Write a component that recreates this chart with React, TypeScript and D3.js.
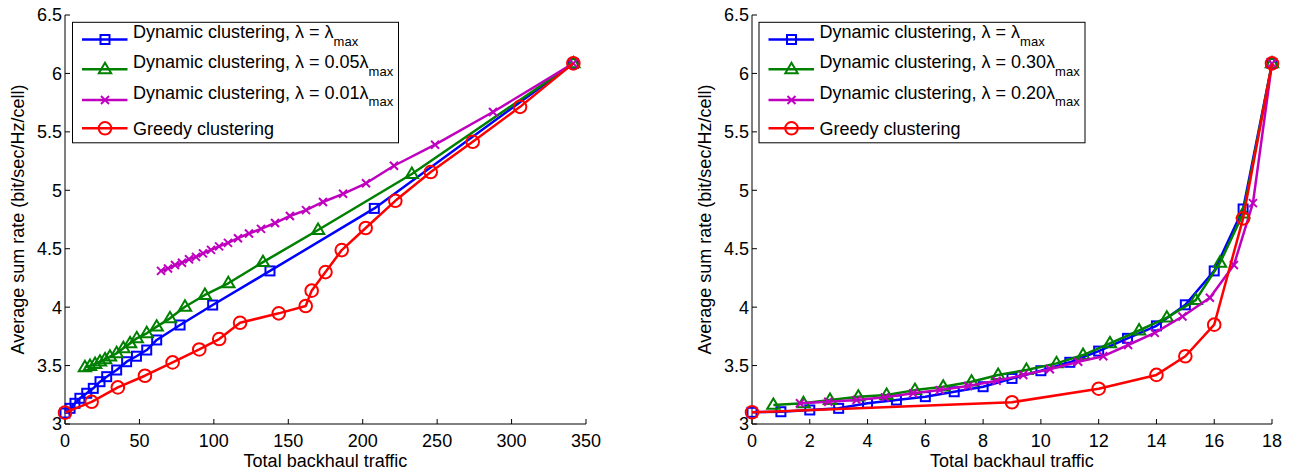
import React from "react";
import * as d3 from "d3";

// ---------- data ----------
const leftXTicks = [0, 50, 100, 150, 200, 250, 300, 350];
const rightXTicks = [0, 2, 4, 6, 8, 10, 12, 14, 16, 18];
const yTicks = [3, 3.5, 4, 4.5, 5, 5.5, 6, 6.5];

const leftBlueX = [0, 3.4, 6.7, 10, 14.6, 19, 23.5, 28, 34.7, 41.4, 48, 54.9, 61.6, 77.3, 99.2, 137.7, 207.8, 341.5];
const leftBlueY = [3.094, 3.134, 3.177, 3.22, 3.263, 3.305, 3.362, 3.405, 3.462, 3.533, 3.58, 3.633, 3.719, 3.847, 4.018, 4.31, 4.845, 6.086];
const leftGreenX = [13.4, 16.8, 20.2, 23.5, 26.9, 30.2, 34.7, 39.2, 43.7, 48.2, 54.9, 61.6, 70.5, 80.6, 94, 109.7, 133, 170, 233, 341.5];
const leftGreenY = [3.485, 3.496, 3.513, 3.533, 3.553, 3.576, 3.605, 3.648, 3.69, 3.733, 3.776, 3.833, 3.904, 4.003, 4.104, 4.204, 4.385, 4.66, 5.139, 6.086];
const leftPurpleX = [64.5, 69.2, 73.9, 78.6, 83.3, 88, 92.7, 98.1, 103.5, 109.5, 116.2, 123.6, 131.7, 141.1, 151.1, 161.9, 173.3, 186.8, 202.2, 221, 248.6, 287.5, 341.5];
const leftPurpleY = [4.31, 4.33, 4.36, 4.38, 4.41, 4.43, 4.46, 4.49, 4.52, 4.55, 4.59, 4.63, 4.67, 4.72, 4.78, 4.83, 4.9, 4.97, 5.06, 5.21, 5.39, 5.67, 6.086];
const leftRedX = [0, 17.9, 35.5, 53.7, 72.3, 90.2, 103.6, 117.6, 143.6, 161.7, 165.7, 175, 185.9, 202, 221.9, 245.7, 273.9, 305.7, 341.5];
const leftRedY = [3.097, 3.19, 3.313, 3.413, 3.527, 3.638, 3.727, 3.866, 3.947, 4.01, 4.141, 4.3, 4.488, 4.677, 4.91, 5.156, 5.415, 5.714, 6.086];

const rightBlueX = [0, 1, 2, 3, 4, 5, 6, 7, 8, 9, 10, 11, 12, 13, 14, 15, 16, 17, 18];
const rightBlueY = [3.1, 3.105, 3.12, 3.134, 3.177, 3.205, 3.234, 3.276, 3.319, 3.39, 3.456, 3.528, 3.624, 3.733, 3.84, 4.02, 4.31, 4.84, 6.086];
const rightGreenX = [0.74, 1.78, 2.7, 3.68, 4.66, 5.64, 6.62, 7.6, 8.52, 9.5, 10.54, 11.46, 12.39, 13.4, 14.36, 15.36, 16.2, 17.0, 18];
const rightGreenY = [3.163, 3.177, 3.205, 3.234, 3.248, 3.29, 3.319, 3.362, 3.419, 3.462, 3.519, 3.59, 3.69, 3.8, 3.91, 4.06, 4.38, 4.8, 6.086];
const rightPurpleX = [1.66, 2.64, 3.62, 4.6, 5.58, 6.5, 7.48, 8.47, 9.39, 10.31, 11.29, 12.16, 13.02, 13.94, 14.9, 15.85, 16.68, 17.34, 18];
const rightPurpleY = [3.177, 3.19, 3.205, 3.228, 3.263, 3.29, 3.325, 3.37, 3.419, 3.468, 3.533, 3.58, 3.676, 3.78, 3.92, 4.08, 4.36, 4.89, 6.086];
const rightRedX = [0, 9, 12, 14, 15, 16, 17, 18];
const rightRedY = [3.1, 3.186, 3.302, 3.42, 3.58, 3.85, 4.76, 6.086];

const leftLegend = ["Dynamic clustering, λ = λ", "Dynamic clustering, λ = 0.05λ", "Dynamic clustering, λ = 0.01λ", "Greedy clustering"];
const rightLegend = ["Dynamic clustering, λ = λ", "Dynamic clustering, λ = 0.30λ", "Dynamic clustering, λ = 0.20λ", "Greedy clustering"];
const legendSubs = ["max", "max", "max", ""];

const xLabel = "Total backhaul traffic";
const yLabel = "Average sum rate (bit/sec/Hz/cell)";

// ---------- style ----------
const COLORS = ["#0000ff", "#008000", "#bf00bf", "#ff0000"];
const MARKERS = ["square", "triangle", "x", "circle"];
const FONT = "'Liberation Sans', Arial, Helvetica, sans-serif";

type Series = { x: number[]; y: number[] };

function Marker({ kind, cx, cy, color }: { kind: string; cx: number; cy: number; color: string }) {
  const sw = 2;
  if (kind === "square") {
    const s = 4.5;
    return <rect x={cx - s} y={cy - s} width={2 * s} height={2 * s} fill="none" stroke={color} strokeWidth={sw} />;
  }
  if (kind === "triangle") {
    const r = 6.5;
    const p = `${cx},${cy - r} ${cx + r * 0.95},${cy + r * 0.6} ${cx - r * 0.95},${cy + r * 0.6}`;
    return <polygon points={p} fill="none" stroke={color} strokeWidth={sw} />;
  }
  if (kind === "x") {
    const s = 4;
    return (
      <g stroke={color} strokeWidth={sw}>
        <line x1={cx - s} y1={cy - s} x2={cx + s} y2={cy + s} />
        <line x1={cx - s} y1={cy + s} x2={cx + s} y2={cy - s} />
      </g>
    );
  }
  return <circle cx={cx} cy={cy} r={6.3} fill="none" stroke={color} strokeWidth={sw} />;
}

function Panel({
  x0, x1, xDomain, xTicks, series, legend, legendX,
}: {
  x0: number; x1: number; xDomain: [number, number]; xTicks: number[]; series: Series[]; legend: string[]; legendX: number;
}) {
  const yTop = 15, yBot = 424;
  const xs = d3.scaleLinear().domain(xDomain).range([x0, x1]);
  const ys = d3.scaleLinear().domain([3, 6.5]).range([yBot, yTop]);
  const line = d3.line<[number, number]>().x((d) => xs(d[0])).y((d) => ys(d[1]));
  const fmtY = (v: number) => (Number.isInteger(v) ? String(v) : v.toFixed(1));
  const legW = 326, legH = 120.5, legY = 22.3;
  const rowY = [39.5, 69.3, 100, 128.3];
  return (
    <g>
      {/* axes */}
      <line x1={x0} y1={yTop} x2={x0} y2={yBot} stroke="#000" strokeWidth={1} />
      <line x1={x0} y1={yBot} x2={x1} y2={yBot} stroke="#000" strokeWidth={1} />
      {yTicks.map((t) => (
        <g key={"y" + t}>
          <line x1={x0} x2={x0 + 5} y1={ys(t)} y2={ys(t)} stroke="#000" />
          <text x={x0 - 3} y={ys(t)} dy="0.36em" textAnchor="end" fontSize={18} fontFamily={FONT}>{fmtY(t)}</text>
        </g>
      ))}
      {xTicks.map((t) => (
        <g key={"x" + t}>
          <line x1={xs(t)} x2={xs(t)} y1={yBot} y2={yBot - 5} stroke="#000" />
          <text x={xs(t)} y={447} textAnchor="middle" fontSize={18} fontFamily={FONT}>{t}</text>
        </g>
      ))}
      <text x={(x0 + x1) / 2} y={467} textAnchor="middle" fontSize={18} fontFamily={FONT}>{xLabel}</text>
      <text transform={`translate(${x0 - 41},${(yTop + yBot) / 2}) rotate(-90)`} textAnchor="middle" fontSize={18} fontFamily={FONT}>{yLabel}</text>
      {/* series */}
      {series.map((s, i) => {
        const pts = s.x.map((v, j) => [v, s.y[j]] as [number, number]);
        return (
          <g key={"s" + i}>
            <path d={line(pts) || ""} fill="none" stroke={COLORS[i]} strokeWidth={2.5} strokeLinejoin="round" />
            {pts.map((p, j) => (
              <Marker key={j} kind={MARKERS[i]} cx={xs(p[0])} cy={ys(p[1])} color={COLORS[i]} />
            ))}
          </g>
        );
      })}
      {/* legend */}
      <rect x={legendX} y={legY} width={legW} height={legH} fill="#fff" stroke="#000" strokeWidth={1} />
      {legend.map((label, i) => (
        <g key={"l" + i}>
          <line x1={legendX + 9.5} x2={legendX + 55} y1={rowY[i]} y2={rowY[i]} stroke={COLORS[i]} strokeWidth={2.5} />
          <Marker kind={MARKERS[i]} cx={legendX + 32.5} cy={rowY[i]} color={COLORS[i]} />
          <text x={legendX + 60.5} y={legendSubs[i] ? rowY[i] - 1.5 : rowY[i] + 6.5} fontSize={18} fontFamily={FONT}>
            {label}
            {legendSubs[i] ? <tspan fontSize={13} dy="7.7">{legendSubs[i]}</tspan> : null}
          </text>
        </g>
      ))}
    </g>
  );
}

export default function App() {
  const leftSeries: Series[] = [
    { x: leftBlueX, y: leftBlueY },
    { x: leftGreenX, y: leftGreenY },
    { x: leftPurpleX, y: leftPurpleY },
    { x: leftRedX, y: leftRedY },
  ];
  const rightSeries: Series[] = [
    { x: rightBlueX, y: rightBlueY },
    { x: rightGreenX, y: rightGreenY },
    { x: rightPurpleX, y: rightPurpleY },
    { x: rightRedX, y: rightRedY },
  ];
  return (
    <svg width={1291} height={471} style={{ position: "absolute", left: 0, top: 0, background: "#fff" }}>
      <rect width={1291} height={471} fill="#fff" />
      <Panel x0={65} x1={586} xDomain={[0, 350]} xTicks={leftXTicks} series={leftSeries} legend={leftLegend} legendX={72.5} />
      <Panel x0={752} x1={1272} xDomain={[0, 18]} xTicks={rightXTicks} series={rightSeries} legend={rightLegend} legendX={759} />
    </svg>
  );
}
